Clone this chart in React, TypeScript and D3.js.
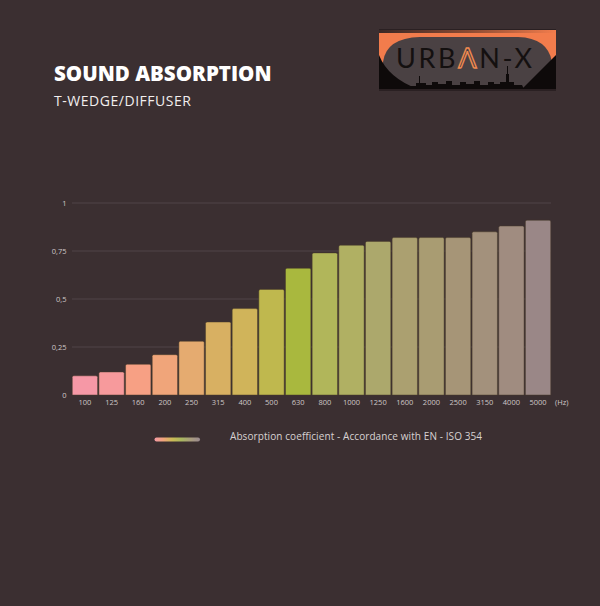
import React from "react";
import * as d3 from "d3";

const frequencies = ["100","125","160","200","250","315","400","500","630","800","1000","1250","1600","2000","2500","3150","4000","5000"];
const absorption = [0.10,0.12,0.16,0.21,0.28,0.38,0.45,0.55,0.66,0.74,0.78,0.80,0.82,0.82,0.82,0.85,0.88,0.91];
const barColors = ["#f698a6","#f79a9c","#f7a084","#f0a57a","#e5ab70","#d8b062","#d0b45a","#bfb84e","#a9b83e","#b1b65a","#b0b063","#aca86c","#aba070","#a99c72","#a69577","#a3917c","#a08c80","#9a8787"];
const yTicks = [0, 0.25, 0.5, 0.75, 1];
const yTickLabels = ["0", "0,25", "0,5", "0,75", "1"];
const legendStops = ["#f59aa5","#f0a57a","#c9bb55","#a8b660","#a99c7e","#9a8a90"];

const W = 600, H = 606;
const BG = "#3b2f31";

export default function App() {
  const x = d3.scaleBand<string>().domain(frequencies).range([72, 551]).paddingInner(0.05).paddingOuter(0.01);
  const y = d3.scaleLinear().domain([0, 1]).range([395, 203]);
  const font = "'Open Sans', sans-serif";

  return (
    <svg width={W} height={H} viewBox={`0 0 ${W} ${H}`} style={{ position: "absolute", left: 0, top: 0, display: "block" }}>
      <defs>
        <linearGradient id="legendGrad" x1="0" x2="1" y1="0" y2="0">
          {legendStops.map((c, i) => (
            <stop key={i} offset={i / (legendStops.length - 1)} stopColor={c} />
          ))}
        </linearGradient>
        <linearGradient id="logoTop" x1="0" x2="1" y1="0" y2="0">
          <stop offset="0" stopColor="#3a2826" />
          <stop offset="0.5" stopColor="#8a4a32" />
          <stop offset="1" stopColor="#f27c4c" />
        </linearGradient>
      </defs>
      <rect x={0} y={0} width={W} height={H} fill={BG} />

      {/* Title */}
      <text x={54} y={81} fill="#ffffff" fontFamily={font} fontWeight={800} fontSize={20.5}>SOUND ABSORPTION</text>
      <text x={54} y={106} fill="#f2eeee" fontFamily={font} fontWeight={400} fontSize={14} textLength={137} lengthAdjust="spacing">T-WEDGE/DIFFUSER</text>

      {/* Logo */}
      <g>
        <rect x={379} y={29} width={177} height={62} fill="#2a2022" />
        <rect x={379} y={30} width={177} height={3} fill="url(#logoTop)" />
        <rect x={379} y={33} width={177} height={56} fill="#f27c4c" />
        <path d="M383,89 L383,62 Q386,38 420,37 L518,37 Q548,38 552,62 L552,89 Z" fill="#4a4143" />
        <path d="M379,55 Q388,78 418,89 L379,89 Z" fill="#0e0a0a" />
        <path d="M556,55 L556,89 L522,89 Z" fill="#0e0a0a" />
        <path d="M410,89 L410,86 L416,86 L416,83 L419,83 L419,76 L420,76 L420,83 L426,83 L426,85 L432,85 L432,82 L438,82 L438,84 L446,84 L446,81 L452,81 L452,85 L460,85 L460,82 L466,82 L466,84 L474,84 L474,81 L480,81 L480,85 L488,85 L488,82 L494,82 L494,84 L500,84 L500,82 L506,82 L506,74 L507,74 L507,66 L508,66 L508,74 L509,74 L509,82 L514,82 L514,85 L522,85 L524,89 Z" fill="#0e0a0a" />
        <text x={396} y={68} fontFamily="Lato, sans-serif" fontWeight={400} fontSize={27} fill="#141010" textLength={136} lengthAdjust="spacing">
          <tspan>URB</tspan>
          <tspan fill="none" stroke="#f08a50" strokeWidth={1.4}>Λ</tspan>
          <tspan>N-X</tspan>
        </text>
      </g>

      {/* Grid */}
      {yTicks.filter(t => t > 0).map(t => (
        <line key={t} x1={72} x2={551} y1={y(t)} y2={y(t)} stroke="#514548" strokeWidth={1} />
      ))}

      {/* Y labels */}
      {yTicks.map((t, i) => (
        <text key={t} x={66.5} y={y(t)} dy="0.35em" textAnchor="end" fill="#cfc7c7" fontFamily={font} fontSize={7.5}>{yTickLabels[i]}</text>
      ))}

      {/* Bars */}
      {frequencies.map((f, i) => {
        const bx = x(f)!;
        const bw = x.bandwidth();
        const top = y(absorption[i]);
        const r = 1.5;
        const d = `M${bx},${y(0)} L${bx},${top + r} Q${bx},${top} ${bx + r},${top} L${bx + bw - r},${top} Q${bx + bw},${top} ${bx + bw},${top + r} L${bx + bw},${y(0)} Z`;
        return (
          <path key={f} d={d} fill={barColors[i]} stroke="#4a3e2a" strokeOpacity={0.6} strokeWidth={0.8} />
        );
      })}

      {/* X labels */}
      {frequencies.map(f => (
        <text key={f} x={x(f)! + x.bandwidth() / 2} y={405} textAnchor="middle" fill="#cfc7c7" fontFamily={font} fontSize={7.5}>{f}</text>
      ))}
      <text x={555} y={405} fill="#cfc7c7" fontFamily={font} fontSize={7.5}>(Hz)</text>

      {/* Legend */}
      <rect x={154.5} y={437.5} width={45.5} height={4} rx={2} fill="url(#legendGrad)" />
      <text x={230} y={439.5} fill="#d8d2d2" fontFamily={font} fontSize={10} textLength={252} lengthAdjust="spacing">Absorption coefficient - Accordance with EN - ISO 354</text>
    </svg>
  );
}
